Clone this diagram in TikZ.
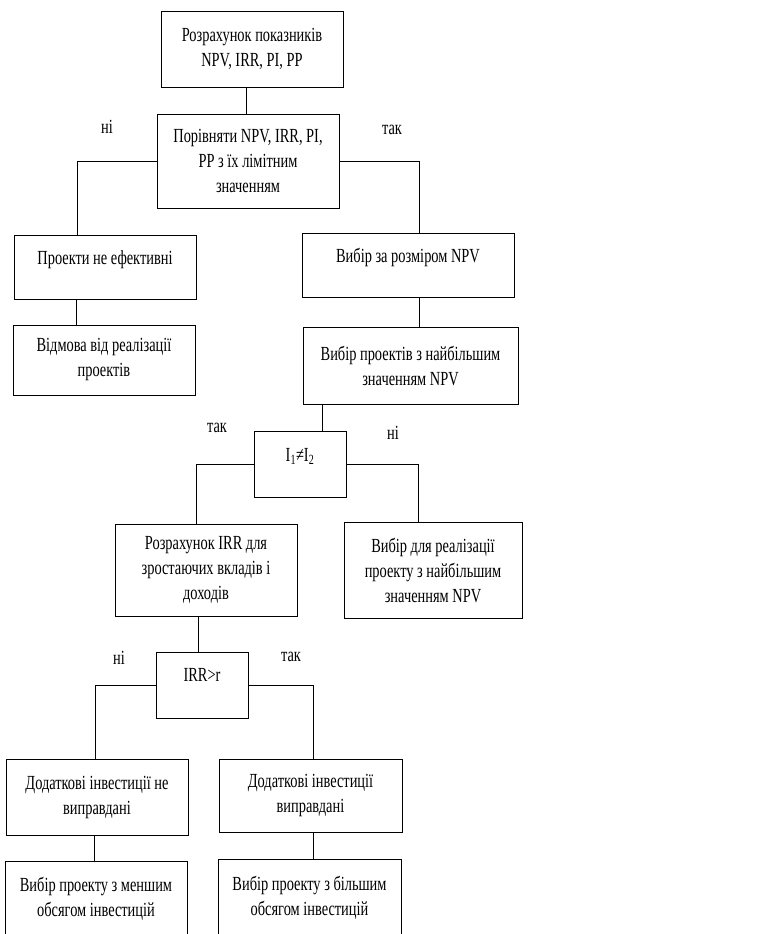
\documentclass[tikz,border=0pt]{standalone}
\usepackage{fontspec}
\setmainfont{Liberation Serif}[FakeStretch=0.72]
\tikzset{blk/.style 2 args={draw, rectangle, align=center, inner sep=0pt, minimum width=#1, minimum height=#2}}
\tikzset{up/.style={text height=14pt, text depth=#1}}
\tikzset{lbl/.style={inner sep=0pt}}

\begin{document}
\begin{tikzpicture}[x=1pt, y=-1pt, line width=0.9pt]
\tikzstyle{every node}=[font=\fontsize{20}{25}\selectfont]
\useasboundingbox (0,0) rectangle (781,934);
\node[blk={182pt}{76pt}] (calc) at (252,49) {Розрахунок показників\\NPV, IRR, PI, PP};
\node[blk={182pt}{94pt}] (cmp) at (248,161) {Порівняти NPV, IRR, PI,\\PP з їх лімітним\\значенням};
\node[blk={182pt}{64pt}, up=20pt] (nof) at (105,267) {Проекти не ефективні};
\node[blk={212pt}{64pt}, up=20pt] (npv) at (408,265) {Вибір за розміром NPV};
\node[blk={182pt}{70pt}] (rej) at (104,360) {Відмова від реалізації\\проектів};
\node[blk={215pt}{77pt}] (best) at (410.5,365.5) {Вибір проектів з найбільшим\\значенням NPV};
\node[blk={92pt}{66pt}, up=20pt] (ineq) at (300,464) {I\textsubscript{1}≠I\textsubscript{2}};
\node[blk={182pt}{92pt}] (irr) at (206,570) {Розрахунок IRR для\\зростаючих вкладів і\\доходів};
\node[blk={178pt}{96pt}] (sel) at (433,570) {Вибір для реалізації\\проекту з найбільшим\\значенням NPV};
\node[blk={92pt}{66pt}, up=21pt] (cmpr) at (202,685) {IRR>r};
\node[blk={182pt}{76pt}] (notj) at (97,797) {Додаткові інвестиції не\\виправдані};
\node[blk={183pt}{73pt}] (just) at (310.5,795.5) {Додаткові інвестиції\\виправдані};
\node[blk={182pt}{76pt}] (small) at (96,899) {Вибір проекту з меншим\\обсягом інвестицій};
\node[blk={183pt}{78pt}] (big) at (309.5,898) {Вибір проекту з більшим\\обсягом інвестицій};

\node[lbl] (no1) at (107,127) {ні};
\node[lbl] (yes1) at (392,130) {так};
\node[lbl] (yes2) at (217,428) {так};
\node[lbl] (no2) at (393,433) {ні};
\node[lbl] (no3) at (119,658) {ні};
\node[lbl] (yes3) at (291,657) {так};

\draw ([xshift=-6pt]calc.south) -- ([xshift=-6pt]calc.south |- cmp.north);
\draw (cmp.west) -| ([xshift=-28pt]nof.north);
\draw (cmp.east) -| ([xshift=11pt]npv.north);
\draw ([xshift=-29pt]nof.south) -- ([xshift=-29pt]nof.south |- rej.north);
\draw ([xshift=11pt]npv.south) -- ([xshift=11pt]npv.south |- best.north);
\draw ([xshift=-88.5pt]best.south) -- ([xshift=-88.5pt]best.south |- ineq.north);
\draw (ineq.west) -| ([xshift=-10pt]irr.north);
\draw (ineq.east) -| ([xshift=-15pt]sel.north);
\draw ([xshift=-8pt]irr.south) -- ([xshift=-8pt]irr.south |- cmpr.north);
\draw (cmpr.west) -| ([xshift=-2pt]notj.north);
\draw (cmpr.east) -| ([xshift=2.5pt]just.north);
\draw ([xshift=-3pt]notj.south) -- ([xshift=-3pt]notj.south |- small.north);
\draw ([xshift=2.5pt]just.south) -- ([xshift=2.5pt]just.south |- big.north);
\end{tikzpicture}
\end{document}
